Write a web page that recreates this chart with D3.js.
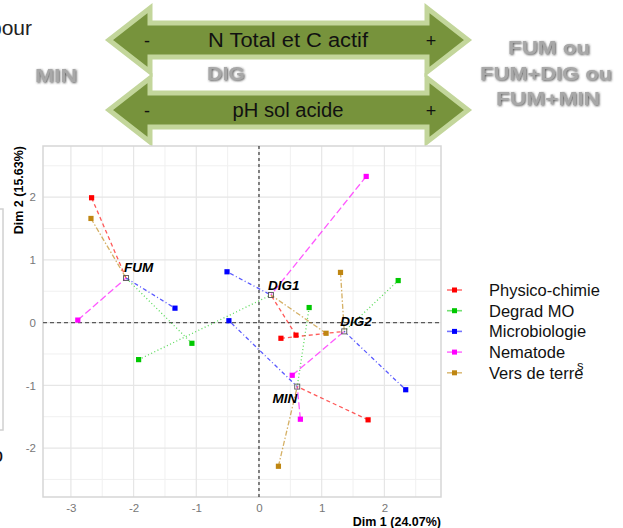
<!DOCTYPE html>
<html>
<head>
<meta charset="utf-8">
<script src="https://cdn.jsdelivr.net/npm/d3@7/dist/d3.min.js"></script>
<style>
  html, body { margin: 0; padding: 0; background: #ffffff; }
  svg { display: block; }
</style>
</head>
<body>
<svg id="chart" width="623" height="528"></svg>
<script>
// ---------------- DATA ----------------
const groups = ["FUM", "DIG1", "DIG2", "MIN"];
const centroidX = [-2.12, 0.19, 1.36, 0.61];
const centroidY = [0.71, 0.44, -0.14, -1.02];

const seriesNames = ["Physico-chimie", "Degrad MO", "Microbiologie", "Nematode", "Vers de terre"];
const seriesColors = ["#FF0000", "#00C800", "#0000FF", "#FF00FF", "#BF8612"];

const physicoX = [-2.67, 0.59, 0.35, 1.74];
const physicoY = [1.99, -0.20, -0.25, -1.55];
const degradX = [-1.07, -1.92, 2.22, 0.80];
const degradY = [-0.33, -0.59, 0.67, 0.24];
const microX = [-1.34, -0.51, 2.34, -0.48];
const microY = [0.23, 0.81, -1.07, 0.03];
const nemaX = [-2.89, 1.71, 0.53, 0.66];
const nemaY = [0.04, 2.33, -0.84, -1.54];
const versX = [-2.68, 1.07, 1.30, 0.31];
const versY = [1.66, -0.17, 0.80, -2.29];

const xTicks = [-3, -2, -1, 0, 1, 2];
const yTicks = [-2, -1, 0, 1, 2];
const xMinor = [-2.5, -1.5, -0.5, 0.5, 1.5, 2.5];
const yMinor = [-2.5, -1.5, -0.5, 0.5, 1.5, 2.5];
const xTitle = "Dim 1 (24.07%)";
const yTitle = "Dim 2 (15.63%)";

const arrowTopText = "N Total et C actif";
const arrowBottomText = "pH sol acide";
const rightLabels = ["FUM ou", "FUM+DIG ou", "FUM+MIN"];

// ---------------- LAYOUT ----------------
const svg = d3.select("#chart");
const panel = { left: 43, right: 441, top: 146, bottom: 497 };
const x = d3.scaleLinear().domain([-3.445, 2.903]).range([panel.left, panel.right]);
const y = d3.scaleLinear().domain([-2.78, 2.815]).range([panel.bottom, panel.top]);

const seriesX = [physicoX, degradX, microX, nemaX, versX];
const seriesY = [physicoY, degradY, microY, nemaY, versY];
const dashes = ["4,3", "1,2.5", "1,2.5,4,2.5", "7,3", "5,2,1.5,2"];
const FONT = "Liberation Sans, Arial, sans-serif";

// defs: shadow filter for grey slide labels
const defs = svg.append("defs");
const f = defs.append("filter").attr("id", "shadow").attr("x", "-20%").attr("y", "-30%").attr("width", "140%").attr("height", "160%");
f.append("feDropShadow").attr("dx", 0.9).attr("dy", 0.9).attr("stdDeviation", 0.8).attr("flood-color", "#3a3a3a").attr("flood-opacity", 0.9);

// ---------------- SLIDE OVERLAY (top) ----------------
svg.append("text").attr("x", -10).attr("y", 35)
  .attr("font-family", FONT).attr("font-size", 21).attr("fill", "#222")
  .text("pour");

function doubleArrow(x0, x1, cy, hh, bh, headW) {
  const xa = x0 + headW, xb = x1 - headW;
  return `M${x0},${cy} L${xa},${cy - hh} L${xa},${cy - bh} L${xb},${cy - bh} L${xb},${cy - hh} L${x1},${cy} L${xb},${cy + hh} L${xb},${cy + bh} L${xa},${cy + bh} L${xa},${cy + hh} Z`;
}
const arrows = [
  { cy: 40, text: arrowTopText, len: 160 },
  { cy: 110, text: arrowBottomText, len: 111 }
];
arrows.forEach(a => {
  svg.append("path").attr("d", doubleArrow(109, 468, a.cy, 32, 17, 41))
    .attr("fill", "#77933C").attr("stroke", "#C3D69B").attr("stroke-width", 5).attr("stroke-linejoin", "miter");
  svg.append("text").attr("x", 288).attr("y", a.cy + 7).attr("text-anchor", "middle")
    .attr("font-family", FONT).attr("font-size", 20).attr("fill", "#111")
    .attr("textLength", a.len).attr("lengthAdjust", "spacingAndGlyphs")
    .text(a.text);
  svg.append("text").attr("x", 147).attr("y", a.cy + 7).attr("text-anchor", "middle")
    .attr("font-family", FONT).attr("font-size", 18).attr("fill", "#111").text("-");
  svg.append("text").attr("x", 431).attr("y", a.cy + 7).attr("text-anchor", "middle")
    .attr("font-family", FONT).attr("font-size", 18).attr("fill", "#111").text("+");
});

function greyLabel(tx, ty, t, len) {
  svg.append("text").attr("x", tx).attr("y", ty).attr("text-anchor", "middle")
    .attr("font-family", FONT).attr("font-weight", "bold")
    .attr("font-size", 19).attr("fill", "#A8A8A8").attr("filter", "url(#shadow)")
    .attr("textLength", len).attr("lengthAdjust", "spacingAndGlyphs")
    .text(t);
}
greyLabel(56, 82, "MIN", 42);
greyLabel(226, 80, "DIG", 38);
greyLabel(549, 54, rightLabels[0], 82);
greyLabel(546, 80, rightLabels[1], 132);
greyLabel(548, 105, rightLabels[2], 104);

// left-edge partial slide elements
svg.append("rect").attr("x", -20).attr("y", 209).attr("width", 23).attr("height", 221)
  .attr("fill", "none").attr("stroke", "#D0D0D0").attr("stroke-width", 1.5);
svg.append("text").attr("x", -8).attr("y", 462)
  .attr("font-family", FONT).attr("font-size", 20).attr("fill", "#111").text("o");

// ---------------- PANEL ----------------
const g = svg.append("g");
g.append("rect").attr("x", panel.left).attr("y", panel.top)
  .attr("width", panel.right - panel.left).attr("height", panel.bottom - panel.top).attr("fill", "#fff");

// grid
g.selectAll(".gxm").data(xMinor).enter().append("line")
  .attr("x1", d => x(d)).attr("x2", d => x(d)).attr("y1", panel.top).attr("y2", panel.bottom)
  .attr("stroke", "#F0F0F0").attr("stroke-width", 1);
g.selectAll(".gym").data(yMinor).enter().append("line")
  .attr("y1", d => y(d)).attr("y2", d => y(d)).attr("x1", panel.left).attr("x2", panel.right)
  .attr("stroke", "#F0F0F0").attr("stroke-width", 1);
g.selectAll(".gx").data(xTicks).enter().append("line")
  .attr("x1", d => x(d)).attr("x2", d => x(d)).attr("y1", panel.top).attr("y2", panel.bottom)
  .attr("stroke", "#E6E6E6").attr("stroke-width", 1.2);
g.selectAll(".gy").data(yTicks).enter().append("line")
  .attr("y1", d => y(d)).attr("y2", d => y(d)).attr("x1", panel.left).attr("x2", panel.right)
  .attr("stroke", "#E6E6E6").attr("stroke-width", 1.2);

// panel border
g.append("rect").attr("x", panel.left).attr("y", panel.top)
  .attr("width", panel.right - panel.left).attr("height", panel.bottom - panel.top)
  .attr("fill", "none").attr("stroke", "#D6D6D6").attr("stroke-width", 1.5);

// axes (labels only)
const fmt = d => String(d);
const xAxis = d3.axisBottom(x).tickValues(xTicks).tickFormat(fmt).tickSize(0).tickPadding(6);
const yAxis = d3.axisLeft(y).tickValues(yTicks).tickFormat(fmt).tickSize(0).tickPadding(6);
const gxA = svg.append("g").attr("transform", `translate(0,${panel.bottom + 1})`).call(xAxis);
const gyA = svg.append("g").attr("transform", `translate(${panel.left - 1},0)`).call(yAxis);
[gxA, gyA].forEach(a => {
  a.select(".domain").remove();
  a.selectAll("text").attr("font-family", FONT)
    .attr("font-size", 11.5).attr("fill", "#777");
});

// reference lines
g.append("line").attr("x1", panel.left).attr("x2", panel.right).attr("y1", y(0)).attr("y2", y(0))
  .attr("stroke", "#5A5A5A").attr("stroke-width", 1.3).attr("stroke-dasharray", "4,3");
g.append("line").attr("x1", x(0)).attr("x2", x(0)).attr("y1", panel.top).attr("y2", panel.bottom)
  .attr("stroke", "#111").attr("stroke-width", 1).attr("stroke-dasharray", "3,3");

// segments
seriesNames.forEach((name, s) => {
  groups.forEach((grp, i) => {
    g.append("line")
      .attr("x1", x(seriesX[s][i])).attr("y1", y(seriesY[s][i]))
      .attr("x2", x(centroidX[i])).attr("y2", y(centroidY[i]))
      .attr("stroke", seriesColors[s]).attr("stroke-opacity", 0.65)
      .attr("stroke-width", 1.3).attr("stroke-dasharray", dashes[s]);
  });
});
// points
seriesNames.forEach((name, s) => {
  g.selectAll(".p" + s).data(groups).enter().append("rect")
    .attr("x", (d, i) => x(seriesX[s][i]) - 2.6).attr("y", (d, i) => y(seriesY[s][i]) - 2.6)
    .attr("width", 5.2).attr("height", 5.2).attr("fill", seriesColors[s]);
});
// centroids
g.selectAll(".cen").data(groups).enter().append("rect")
  .attr("x", (d, i) => x(centroidX[i]) - 2.5).attr("y", (d, i) => y(centroidY[i]) - 2.5)
  .attr("width", 5).attr("height", 5).attr("fill", "none").attr("stroke", "#555").attr("stroke-width", 0.9);
const labelOff = [[-2, -6, "start"], [-3, -5, "start"], [-4, -5, "start"], [0, 16.5, "end"]];
g.selectAll(".cl").data(groups).enter().append("text")
  .attr("x", (d, i) => x(centroidX[i]) + labelOff[i][0])
  .attr("y", (d, i) => y(centroidY[i]) + labelOff[i][1])
  .attr("text-anchor", (d, i) => labelOff[i][2])
  .attr("font-family", FONT).attr("font-weight", "bold").attr("font-style", "italic")
  .attr("font-size", 13.5).attr("fill", "#000")
  .text(d => d);

// axis titles
svg.append("text").attr("x", panel.right).attr("y", 526).attr("text-anchor", "end")
  .attr("font-family", FONT).attr("font-weight", "bold").attr("font-size", 12.5)
  .attr("fill", "#000").text(xTitle);
svg.append("text").attr("transform", `translate(23,${panel.top}) rotate(-90)`).attr("text-anchor", "end")
  .attr("font-family", FONT).attr("font-weight", "bold").attr("font-size", 12.5)
  .attr("fill", "#000").text(yTitle);

// legend
const leg = svg.append("g");
seriesNames.forEach((name, s) => {
  const ly = 290 + s * 20.7;
  leg.append("line").attr("x1", 447).attr("x2", 462).attr("y1", ly).attr("y2", ly)
    .attr("stroke", seriesColors[s]).attr("stroke-opacity", 0.55).attr("stroke-width", 1.6);
  leg.append("rect").attr("x", 452).attr("y", ly - 2.5).attr("width", 5).attr("height", 5).attr("fill", seriesColors[s]);
  leg.append("text").attr("x", 489).attr("y", ly + 6)
    .attr("font-family", FONT).attr("font-size", 16.5).attr("fill", "#111")
    .text(name);
});
svg.append("text").attr("x", 577).attr("y", 370)
  .attr("font-family", FONT).attr("font-size", 13).attr("fill", "#111").text("s");
</script>
</body>
</html>
